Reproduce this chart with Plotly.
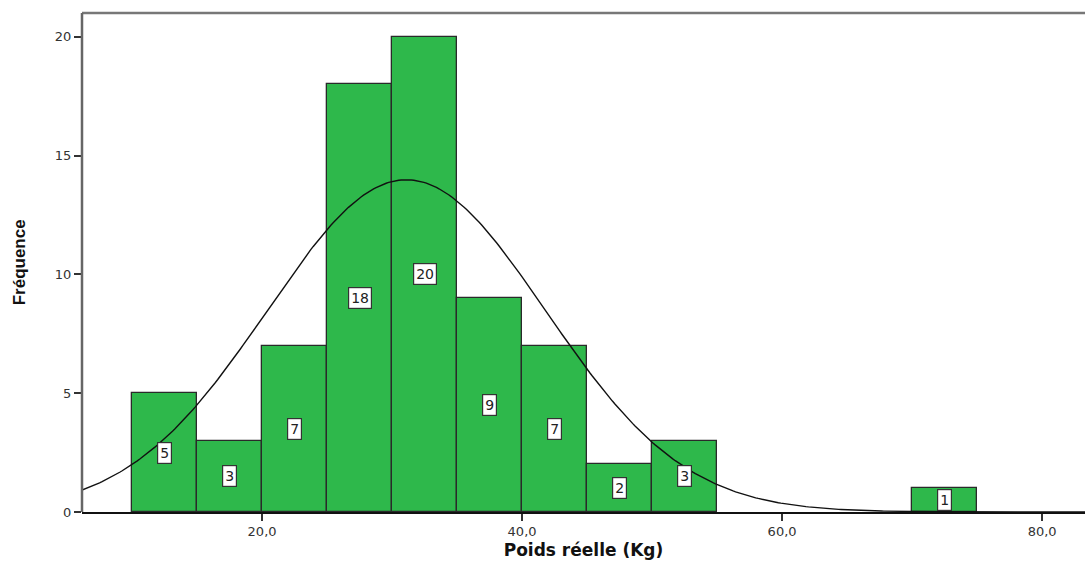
import numpy as np
import plotly.graph_objects as go

# Histogram of weights (bins of 5 kg)
bin_starts = [10, 15, 20, 25, 30, 35, 40, 45, 50, 70]
counts = [5, 3, 7, 18, 20, 9, 7, 2, 3, 1]
bin_width = 5
n_total = sum(counts)

# Fitted normal curve parameters
mean_w = 31.1
sd_w = 10.7

x_ticks = [20, 40, 60, 80]
x_tick_labels = ["20,0", "40,0", "60,0", "80,0"]
y_ticks = [0, 5, 10, 15, 20]

x_range = [6.15, 83.3]
y_range = [0, 21.0]

mids = [s + bin_width / 2 for s in bin_starts]

fig = go.Figure()
fig.add_trace(go.Bar(
    x=mids, y=counts, width=bin_width,
    marker=dict(color="#2EB84B", line=dict(color="#2a2a2a", width=1.3)),
    hoverinfo="x+y", showlegend=False,
))

xs = np.linspace(x_range[0], x_range[1], 400)
ys = n_total * bin_width / (sd_w * np.sqrt(2 * np.pi)) * np.exp(-0.5 * ((xs - mean_w) / sd_w) ** 2)
fig.add_trace(go.Scatter(x=xs, y=ys, mode="lines",
                         line=dict(color="#111111", width=1.4),
                         showlegend=False, hoverinfo="skip"))

# Count labels in boxes at half bar height
for m, c in zip(mids, counts):
    fig.add_annotation(x=m, y=c / 2, text=str(c), showarrow=False,
                       font=dict(family="DejaVu Sans", size=14, color="#222"),
                       bgcolor="white", bordercolor="#333", borderwidth=1.2,
                       borderpad=2)

# Frame lines
fig.add_shape(type="line", xref="paper", yref="paper", x0=0, x1=1, y0=1, y1=1,
              line=dict(color="#777", width=2.5))
fig.add_shape(type="line", xref="paper", yref="paper", x0=0, x1=0, y0=0, y1=1,
              line=dict(color="#666", width=2.5))

fig.add_annotation(xref="paper", yref="paper", x=-0.062, y=0.5,
                   text="<b>Fréquence</b>", textangle=-90, showarrow=False,
                   xanchor="center", yanchor="middle",
                   font=dict(family="Liberation Sans Narrow, Arial Narrow, Liberation Sans", size=17, color="#111"))

fig.update_layout(
    width=1085, height=563,
    margin=dict(l=82, r=0, t=13, b=51),
    paper_bgcolor="white", plot_bgcolor="white",
    bargap=0,
    xaxis=dict(range=x_range, tickvals=x_ticks, ticktext=x_tick_labels,
               ticks="outside", ticklen=7, tickwidth=1.5, tickcolor="#333",
               showgrid=False, zeroline=False,
               showline=True, linecolor="#111", linewidth=1.5,
               tickfont=dict(family="DejaVu Sans", size=13, color="#333"),
               title=dict(text="<b>Poids réelle (Kg)</b>", standoff=6,
                          font=dict(family="DejaVu Sans", size=17, color="#111"))),
    yaxis=dict(range=y_range, tickvals=y_ticks,
               ticks="outside", ticklen=7, tickwidth=1.5, tickcolor="#333",
               showgrid=False, zeroline=False, showline=False,
               tickfont=dict(family="DejaVu Sans", size=13, color="#333")),
)

fig.write_html("out.html")
